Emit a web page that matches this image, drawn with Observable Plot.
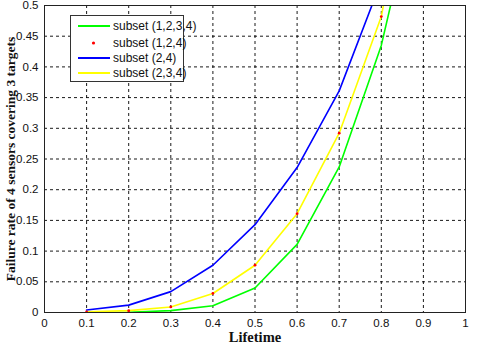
<!DOCTYPE html>
<html><head><meta charset="utf-8">
<script src="https://cdn.jsdelivr.net/npm/d3@7"></script>
<script src="https://cdn.jsdelivr.net/npm/@observablehq/plot@0.6"></script>
<style>
html,body{margin:0;padding:0;background:#fff;}
#wrap{position:relative;width:480px;height:348px;}
#legend{position:absolute;left:70px;top:15px;width:114px;height:67px;border:1px solid #333;background:#fff;box-sizing:border-box;font:12px "Liberation Sans",Arial,sans-serif;color:#111;}
.row{position:absolute;left:6px;height:14px;display:flex;align-items:center;white-space:nowrap;}
.row svg{width:33px;height:14px;margin-right:3px;flex:none;}
</style></head>
<body><div id="wrap"><div id="legend"></div></div>
<script>
const lifetime = [0.1, 0.2, 0.3, 0.4, 0.5, 0.6, 0.7, 0.8, 0.9];
const subset1234 = [0, 0.0005, 0.003, 0.011, 0.040, 0.111, 0.237, 0.435, 0.73];
const subset124  = [0.001, 0.003, 0.009, 0.031, 0.077, 0.161, 0.292, 0.482];
const subset24   = [0.004, 0.012, 0.034, 0.077, 0.143, 0.236, 0.361, 0.54];
const subset234  = [0.001, 0.003, 0.009, 0.031, 0.077, 0.161, 0.292, 0.482, 0.84];
const seriesNames = ["subset (1,2,3,4)", "subset (1,2,4)", "subset (2,4)", "subset (2,3,4)"];
const seriesColors = ["#00ff00", "#ff0000", "#0000ff", "#ffff00"];
const xTicks = [0, 0.1, 0.2, 0.3, 0.4, 0.5, 0.6, 0.7, 0.8, 0.9, 1];
const yTicks = [0, 0.05, 0.1, 0.15, 0.2, 0.25, 0.3, 0.35, 0.4, 0.45, 0.5];

const toRows = (vals, name) => vals.map((v, i) => ({x: lifetime[i], y: v, name}));
const green = toRows(subset1234, seriesNames[0]);
const red = toRows(subset124, seriesNames[1]);
const blue = toRows(subset24, seriesNames[2]);
const yellow = toRows(subset234, seriesNames[3]);
const fmt = d => String(+d.toFixed(2));
const lw = 1.6;

const chart = Plot.plot({
  width: 480, height: 348,
  marginLeft: 44, marginRight: 15, marginTop: 5, marginBottom: 36,
  style: {background: "#fff", fontFamily: "'Liberation Sans', Arial, sans-serif", fontSize: "11px", color: "#111"},
  x: {domain: [0, 1]},
  y: {domain: [0, 0.5]},
  marks: [
    Plot.gridX(xTicks.slice(1, -1), {stroke: "#000", strokeOpacity: 0.9, strokeDasharray: "3,3"}),
    Plot.gridY(yTicks.slice(1, -1), {stroke: "#000", strokeOpacity: 0.9, strokeDasharray: "3,3"}),
    Plot.axisX(xTicks, {tickSize: 0, tickPadding: 6, tickFormat: fmt, label: null, fontSize: 11.5}),
    Plot.axisY(yTicks, {tickSize: 0, tickPadding: 6, tickFormat: fmt, label: null, fontSize: 11.5}),
    Plot.line(green, {x: "x", y: "y", stroke: seriesColors[0], strokeWidth: lw, clip: true}),
    Plot.line(blue, {x: "x", y: "y", stroke: seriesColors[2], strokeWidth: lw, clip: true}),
    Plot.line(yellow, {x: "x", y: "y", stroke: seriesColors[3], strokeWidth: lw, clip: true}),
    Plot.dot(red, {x: "x", y: "y", fill: seriesColors[1], r: 1.4, stroke: "none", clip: true}),
    Plot.frame({stroke: "#222", strokeWidth: 1}),
    Plot.text(["Lifetime"], {frameAnchor: "bottom", dy: 29, fontFamily: "'Liberation Serif', 'Times New Roman', serif", fontWeight: "bold", fontSize: 14.5, fill: "#111"}),
    Plot.text(["Failure rate of 4 sensors covering 3 targets"], {frameAnchor: "left", textAnchor: "middle", dx: -34, rotate: -90, fontFamily: "'Liberation Serif', 'Times New Roman', serif", fontWeight: "bold", fontSize: 13.5, fill: "#111"})
  ]
});
document.getElementById("wrap").prepend(chart);

const legend = document.getElementById("legend");
const rowTops = [3, 20, 35, 50];
seriesNames.forEach((name, i) => {
  const row = document.createElement("div");
  row.className = "row";
  row.style.top = rowTops[i] + "px";
  const sample = i === 1
    ? `<svg><circle cx="16.5" cy="7" r="1.6" fill="${seriesColors[i]}"/></svg>`
    : `<svg><line x1="1" x2="33" y1="7" y2="7" stroke="${seriesColors[i]}" stroke-width="2"/></svg>`;
  row.innerHTML = sample + `<span>${name}</span>`;
  legend.appendChild(row);
});
</script>
</body></html>
